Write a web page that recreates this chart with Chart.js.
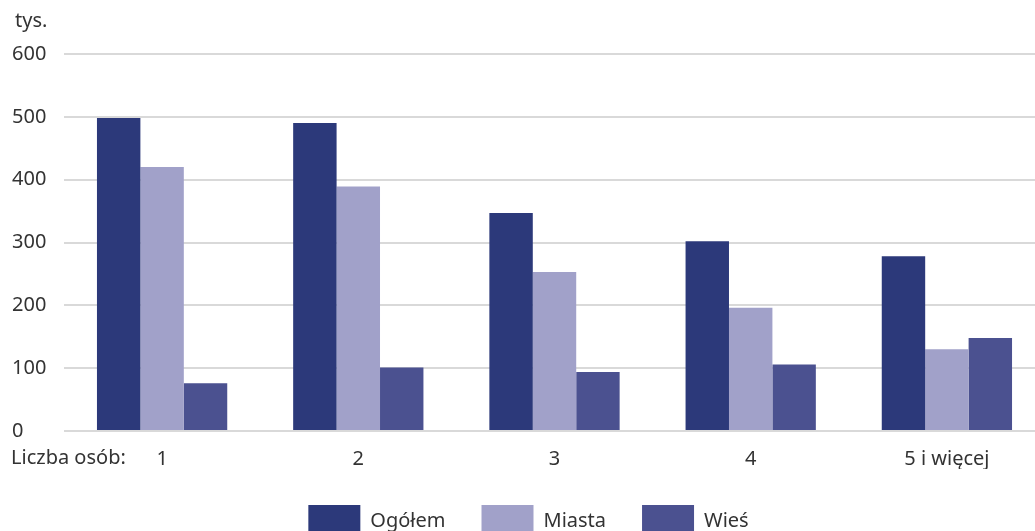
<!DOCTYPE html>
<html lang="pl">
<head>
    <meta charset="UTF-8">
    <title>Gospodarstwa domowe według liczby osób</title>
    <script src="https://cdn.jsdelivr.net/npm/chart.js"></script>
    <style>
        html, body {
            margin: 0;
            padding: 0;
            overflow: hidden;
            background: #fff;
        }
        .chart-box {
            position: relative;
            width: 1045px;
            height: 547px;
        }
    </style>
</head>
<body>
    <div class="chart-box">
        <canvas id="chart"></canvas>
    </div>

    <script>
        // Dane (tys.)
        const categories = ["1", "2", "3", "4", "5 i więcej"];
        const ogolem = [498, 490, 347, 302, 278];
        const miasta = [420, 389, 253, 196, 130];
        const wies = [76, 101, 94, 106, 148];
        const yTicks = [0, 100, 200, 300, 400, 500, 600];

        const textColor = '#333333';
        const fontFamily = '"Noto Sans", "Open Sans", sans-serif';
        const fontSize = 20;

        // Napisy "tys." i "Liczba osób:"
        const extraText = {
            id: 'extraText',
            afterDraw(chart) {
                const ctx = chart.ctx;
                ctx.save();
                ctx.fillStyle = textColor;
                ctx.font = fontSize + 'px ' + fontFamily;
                ctx.textAlign = 'left';
                ctx.textBaseline = 'middle';
                ctx.fillText('tys.', 15, 21);
                ctx.fillText('Liczba osób:', 11, chart.chartArea.bottom + 27);
                ctx.restore();
            }
        };

        new Chart(document.getElementById('chart'), {
            type: 'bar',
            data: {
                labels: categories,
                datasets: [
                    { label: 'Ogółem', data: ogolem, backgroundColor: '#2c397a' },
                    { label: 'Miasta', data: miasta, backgroundColor: '#a1a1c9' },
                    { label: 'Wieś', data: wies, backgroundColor: '#4b5190' }
                ]
            },
            options: {
                responsive: true,
                maintainAspectRatio: false,
                animation: false,
                layout: {
                    padding: { top: 54, left: 12, right: 0, bottom: 0 }
                },
                datasets: {
                    bar: {
                        categoryPercentage: 0.664,
                        barPercentage: 1
                    }
                },
                plugins: {
                    tooltip: { enabled: false },
                    legend: {
                        position: 'bottom',
                        labels: {
                            boxWidth: 52,
                            boxHeight: 32,
                            padding: 36,
                            color: textColor,
                            font: { family: fontFamily, size: fontSize }
                        }
                    }
                },
                scales: {
                    x: {
                        grid: { display: false },
                        border: { display: false },
                        ticks: {
                            color: textColor,
                            padding: 8,
                            font: { family: fontFamily, size: fontSize }
                        },
                        afterFit(scale) { scale.height = 38; }
                    },
                    y: {
                        min: 0,
                        max: 600,
                        afterBuildTicks(scale) {
                            scale.ticks = yTicks.map(v => ({ value: v }));
                        },
                        grid: {
                            color: '#d9d9d9',
                            lineWidth: 2,
                            drawTicks: false
                        },
                        border: { display: false },
                        ticks: {
                            color: textColor,
                            crossAlign: 'far',
                            padding: 8,
                            font: { family: fontFamily, size: fontSize }
                        },
                        afterFit(scale) { scale.width = 52; }
                    }
                }
            },
            plugins: [extraText]
        });
    </script>
</body>
</html>
